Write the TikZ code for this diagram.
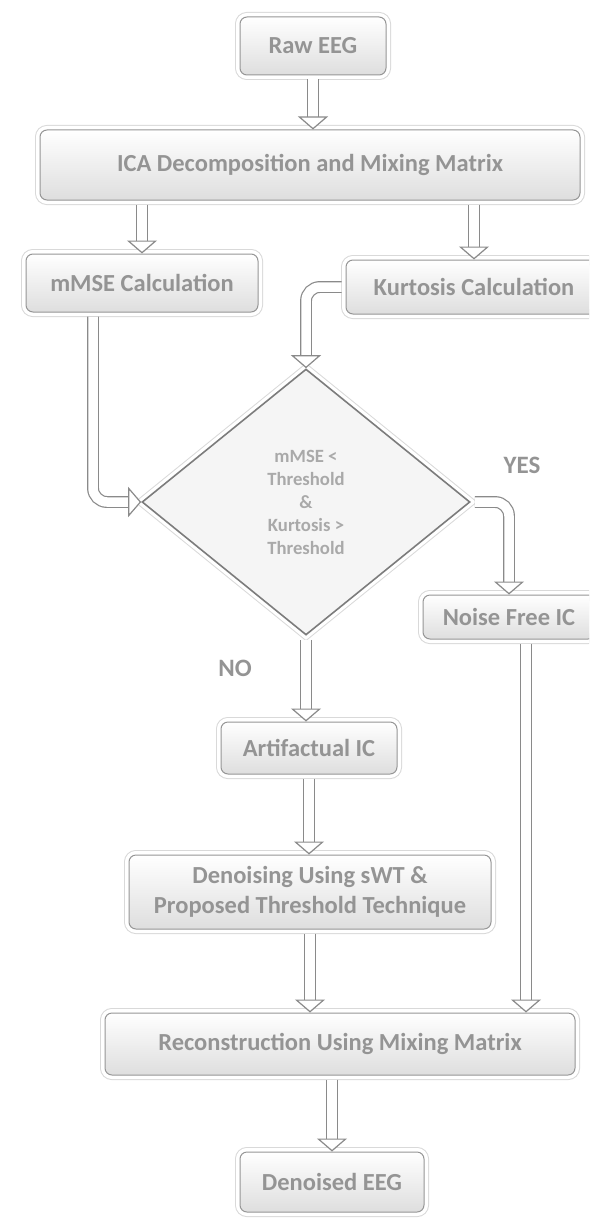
\documentclass[tikz,border=0pt]{standalone}
\usepackage{fontspec}
\setmainfont{Carlito}
\usetikzlibrary{shapes.geometric,arrows.meta,shadows}
\definecolor{txtgray}{HTML}{949494}
\definecolor{edgegray}{HTML}{8A8A8A}
\definecolor{shadegray}{HTML}{DEDEDE}
\tikzset{
  halo/.style={preaction={draw=gray!30, line width=10pt},
    preaction={draw=white, line width=8pt}},
  stage/.style={rectangle, rounded corners=7pt,
    drop shadow={opacity=0.2, shadow xshift=1.5pt, shadow yshift=-2.5pt}, halo,
    draw=edgegray!90, line width=1pt, top color=white, bottom color=shadegray,
    text=txtgray, font=\fontsize{24.5}{30}\selectfont\bfseries, align=center, inner sep=0pt},
  decision/.style={diamond, aspect=1.22,
    drop shadow={opacity=0.2, shadow xshift=1.5pt, shadow yshift=-2.5pt}, halo,
    draw=edgegray!90!black, line width=1.6pt, fill=gray!8,
    text=txtgray!80, font=\fontsize{18.7}{23}\selectfont\bfseries, align=center,
    inner sep=0pt, minimum width=328pt, minimum height=266pt},
  answer/.style={text=txtgray, font=\fontsize{25}{28}\selectfont\bfseries},
  pipe/.style={draw=edgegray, line width=1.2pt, double=white, double distance=9.5pt,
    shorten <=4pt, -{Triangle[open, fill=white, length=13pt, width=30pt, line width=1.2pt]}},
  bentpipe/.style={pipe, rounded corners=14pt}
}
\begin{document}
\begin{tikzpicture}[x=1pt, y=-1pt]
  \useasboundingbox (0,0) rectangle (589,1220);
  \clip (0,0) rectangle (589,1220);

  \node[stage, minimum width=146pt, minimum height=58pt] (raw) at (313,46) {Raw EEG};
  \node[stage, minimum width=540pt, minimum height=70pt] (ica) at (310,165) {ICA Decomposition and Mixing Matrix};
  \node[stage, minimum width=232pt, minimum height=58pt] (mmse) at (142,283) {mMSE Calculation};
  \node[stage, minimum width=256pt, minimum height=54pt] (kurt) at (474,287) {Kurtosis Calculation};

  \node[decision] (dia) at (306,502) {mMSE <\\Threshold\\\&\\Kurtosis >\\Threshold};
  \node[answer] (yes) at (522,465) {YES};
  \node[answer] (no) at (235,668) {NO};

  \node[stage, minimum width=172pt, minimum height=44pt] (nfree) at (509,617) {Noise Free IC};
  \node[stage, minimum width=176pt, minimum height=52pt] (artif) at (309,748) {Artifactual IC};
  \node[stage, minimum width=362pt, minimum height=74pt] (denoise) at (310,892) {Denoising Using sWT \&\\Proposed Threshold Technique};
  \node[stage, minimum width=470pt, minimum height=62pt] (recon) at (340,1044) {Reconstruction Using Mixing Matrix};
  \node[stage, minimum width=184pt, minimum height=60pt] (deeg) at (332,1182) {Denoised EEG};

  % connectors
  \draw[pipe] (raw.south) -- (raw.south |- ica.north);
  \draw[pipe] (ica.south -| mmse) -- (mmse.north);
  \draw[pipe] (ica.south -| kurt) -- (kurt.north);
  \draw[bentpipe] (kurt.west) -| (dia.north);
  \draw[bentpipe] ([xshift=-49pt]mmse.south) |- (dia.west);
  \draw[bentpipe] (dia.east) -| (nfree.north);
  \draw[pipe] (dia.south) -- (dia.south |- artif.north);
  \draw[pipe] (artif.south) -- (artif.south |- denoise.north);
  \draw[pipe] (denoise.south) -- (denoise.south |- recon.north);
  \draw[pipe] ([xshift=17pt]nfree.south) -- ([xshift=17pt]nfree.south |- recon.north);
  \draw[pipe] (recon.south -| deeg) -- (deeg.north);
\end{tikzpicture}
\end{document}
